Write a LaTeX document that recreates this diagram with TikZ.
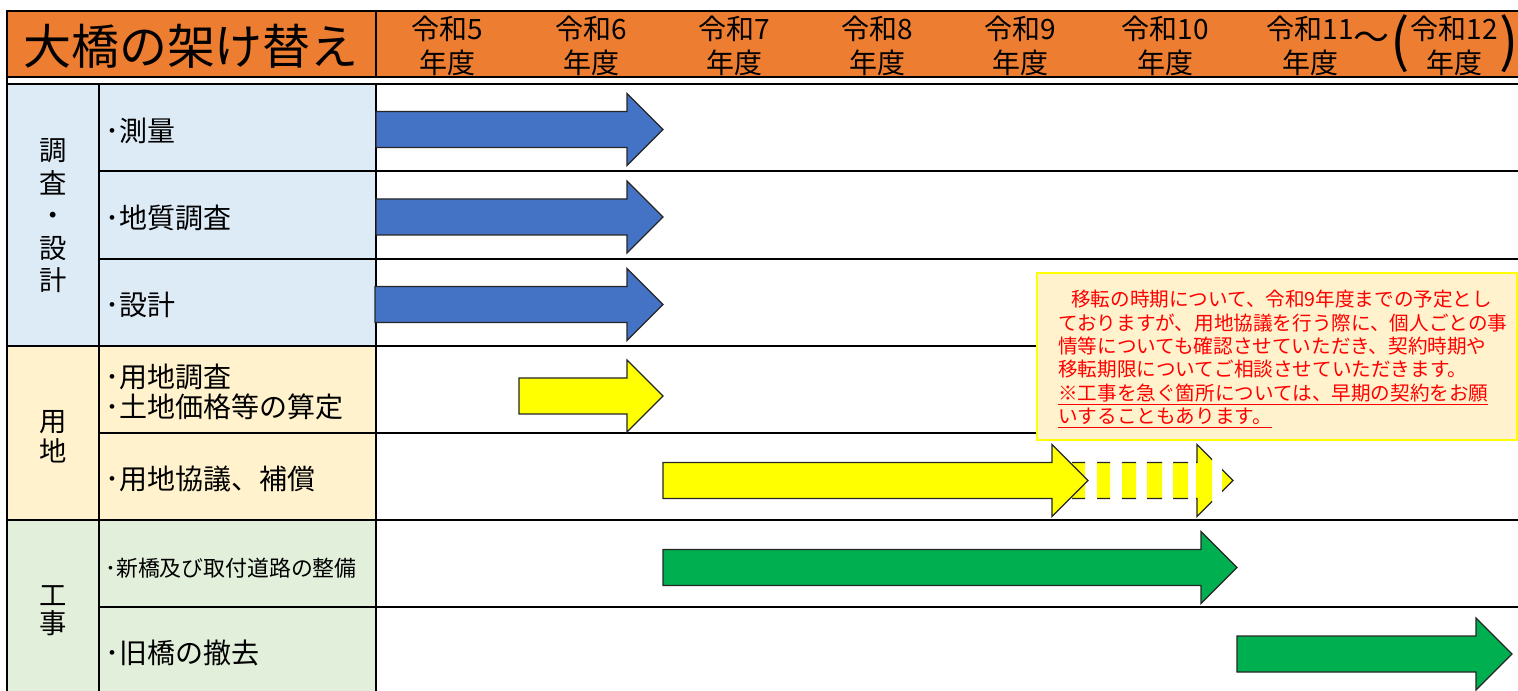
\documentclass[tikz,border=0pt]{standalone}
\usepackage{fontspec}
\setmainfont{Noto Sans CJK JP}
\definecolor{hdrorange}{HTML}{ED7D31}
\definecolor{bluebg}{HTML}{DDEBF7}
\definecolor{yellowbg}{HTML}{FFF2CC}
\definecolor{greenbg}{HTML}{E2EFDA}
\definecolor{barblue}{HTML}{4472C4}
\definecolor{bargreen}{HTML}{00B050}
\definecolor{baryellow}{HTML}{FFFF00}
\definecolor{notered}{HTML}{FF0000}
\tikzset{
  thinrule/.style={draw=black, line width=1.1pt},
  thickrule/.style={draw=black, line width=2.1pt},
  arrowline/.style={draw=black!85, line width=0.9pt, line join=miter},
  yearlbl/.style={font=\fontsize{21}{25.5}\selectfont, align=center, inner sep=0pt},
  titlelbl/.style={font=\fontsize{36}{40}\selectfont, inner sep=0pt},
  catlbl/.style={font=\fontsize{20.5}{24.4}\selectfont, align=center, inner sep=0pt},
  rowlbl/.style={font=\fontsize{21}{22.5}\selectfont, align=left, inner sep=0pt, anchor=west},
  parenlbl/.style={font=\fontsize{43}{43}\selectfont, inner sep=0pt},
  notebox/.style={fill=yellowbg, draw=baryellow, line width=1.6pt, minimum width=360pt, minimum height=125pt, inner sep=0pt},
  notetext/.style={font=\fontsize{14.7}{17.6}\selectfont, text=notered, align=left, inner sep=0pt, anchor=west}
}
\newcommand{\GArrow}[4]{%
  \draw[arrowline, fill=#1] (#2,#4-18) -- (#3-36,#4-18) -- (#3-36,#4-36) -- (#3,#4)
    -- (#3-36,#4+36) -- (#3-36,#4+18) -- (#2,#4+18) -- cycle;}
\begin{document}
\begin{tikzpicture}[x=0.75pt, y=-0.75pt]
\useasboundingbox (0,0) rectangle (1518,691);
\clip (0,0) rectangle (1518,691);
\fill[white] (0,0) rectangle (1518,691);
% header
\fill[hdrorange] (7,11) rectangle (1518,77);
% section backgrounds
\fill[bluebg] (7,84) rectangle (376,346);
\fill[yellowbg] (7,346) rectangle (376,520);
\fill[greenbg] (7,520) rectangle (376,694);
% grid
\draw[thinrule] (7,11) -- (1518,11);
\draw[thickrule] (7,77) -- (1518,77);
\draw[thinrule] (376,11) -- (376,77);
\draw[thinrule] (7,84) -- (1518,84);
\draw[thinrule] (7,10.5) -- (7,694);
\draw[thinrule] (99,84) -- (99,694);
\draw[thinrule] (376,84) -- (376,694);
\draw[thinrule] (99,171) -- (1518,171);
\draw[thinrule] (99,259) -- (1518,259);
\draw[thickrule] (7,346) -- (1518,346);
\draw[thinrule] (99,433) -- (1518,433);
\draw[thickrule] (7,520) -- (1518,520);
\draw[thinrule] (99,607) -- (1518,607);
% header text
\node[titlelbl] (title) at (191,46) {大橋の架け替え};
\node[yearlbl] (y5) at (447,45.5) {令和5\\年度};
\node[yearlbl] (y6) at (591,45.5) {令和6\\年度};
\node[yearlbl] (y7) at (734,45.5) {令和7\\年度};
\node[yearlbl] (y8) at (877,45.5) {令和8\\年度};
\node[yearlbl] (y9) at (1020,45.5) {令和9\\年度};
\node[yearlbl] (y10) at (1165,45.5) {令和10\\年度};
\node[yearlbl] (y11) at (1310,45.5) {令和11\\年度};
\node[yearlbl, font=\fontsize{27}{27}\selectfont] (tilde) at (1371,41) {～};
\node[parenlbl] (lp) at (1400,44) {(};
\node[yearlbl] (y12) at (1454,45.5) {令和12\\年度};
\node[parenlbl] (rp) at (1509,44) {)};
% category labels
\node[catlbl] (cat1) at (53,216) {調\\査\\・\\設\\計};
\node[catlbl, font=\fontsize{20.5}{22.5}\selectfont] (cat2) at (53,437) {用\\地};
\node[catlbl, font=\fontsize{20.5}{21}\selectfont] (cat3) at (53,611) {工\\事};
% row labels
\node[rowlbl] (r1) at (105,131) {･測量};
\node[rowlbl] (r2) at (105,218) {･地質調査};
\node[rowlbl] (r3) at (105,305) {･設計};
\node[rowlbl] (r4) at (105,392) {･用地調査\\･土地価格等の算定};
\node[rowlbl] (r5) at (105,479) {･用地協議、補償};
\node[rowlbl, font=\fontsize{16.4}{18}\selectfont] (r6) at (105,568) {･新橋及び取付道路の整備};
\node[rowlbl] (r7) at (105,653) {･旧橋の撤去};
% note
\node[notebox] (note) at (1277,356.5) {};
\node[notetext] (notetxt) at ([xshift=16.5pt, yshift=-1.8pt]note.west) {%
\hspace*{9.75pt}移転の時期について、令和9年度までの予定とし\\
ておりますが、用地協議を行う際に、個人ごとの事\\
情等についても確認させていただき、契約時期や\\
移転期限についてご相談させていただきます。\\
\underline{※工事を急ぐ箇所については、早期の契約をお願}\\
\underline{いすることもあります。}};
% bars
\GArrow{barblue}{376}{663}{129.5}
\GArrow{barblue}{376}{663}{217}
\GArrow{barblue}{375}{663}{304.5}
\GArrow{baryellow}{519}{663}{396}
\begin{scope}
  \clip (1072,400) rectangle (1085,560)
        (1097,400) rectangle (1110,560)
        (1122,400) rectangle (1136,560)
        (1147,400) rectangle (1162,560)
        (1173,400) rectangle (1188,560)
        (1196,400) rectangle (1212,560)
        (1222,400) rectangle (1240,560);
  \GArrow{baryellow}{1040}{1233}{480.5}
\end{scope}
\GArrow{baryellow}{663}{1088}{480.5}
\GArrow{bargreen}{663}{1237}{567.5}
\GArrow{bargreen}{1237}{1512}{654}
\end{tikzpicture}
\end{document}
